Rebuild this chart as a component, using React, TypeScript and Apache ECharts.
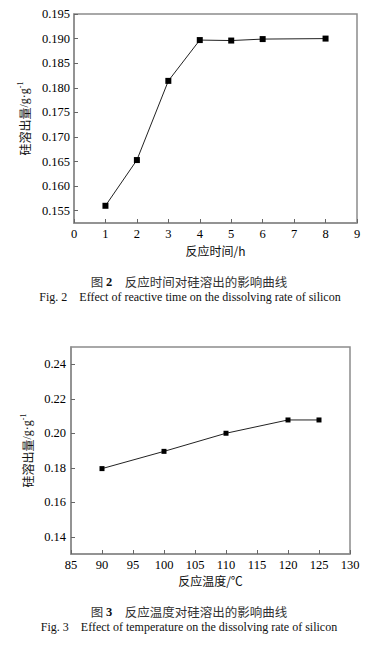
import React, { useEffect, useRef } from "react";
import * as echarts from "echarts";

const timeHours = [1, 2, 3, 4, 5, 6, 8];
const timeSilicon = [0.156, 0.1653, 0.1814, 0.1897, 0.1896, 0.1899, 0.19];
const timeXTicks = [0, 1, 2, 3, 4, 5, 6, 7, 8, 9];
const timeYTicks = [0.155, 0.16, 0.165, 0.17, 0.175, 0.18, 0.185, 0.19, 0.195];

const tempC = [90, 100, 110, 120, 125];
const tempSilicon = [0.1795, 0.1895, 0.2, 0.2077, 0.2077];
const tempXTicks = [85, 90, 95, 100, 105, 110, 115, 120, 125, 130];
const tempYTicks = [0.14, 0.16, 0.18, 0.2, 0.22, 0.24];

const SERIF = "Liberation Serif";
const CJK = "Noto Sans CJK SC";

export default function App() {
  const ref = useRef<HTMLDivElement>(null);
  useEffect(() => {
    if (!ref.current) return;
    const chart = echarts.init(ref.current, null, { renderer: "svg" });
    const axisLine = { show: true, lineStyle: { color: "#8c8c8c", width: 1.5 } };
    const tick = { show: true, inside: true, length: 4, lineStyle: { color: "#666", width: 1 } };
    const lbl = { color: "#000", fontFamily: SERIF, fontSize: 12.5, lineHeight: 12 };
    const yName = {
      rich: {
        m: { fontFamily: CJK, fontSize: 12, color: "#111" },
        s: { fontFamily: SERIF, fontSize: 12, color: "#111" },
        sup: { fontFamily: SERIF, fontSize: 8, color: "#111", verticalAlign: "top", padding: [0, 0, 8, 0] },
      },
    };
    const xNameStyle = { fontFamily: CJK, fontSize: 12, color: "#111", lineHeight: 12 };
    const capRich = {
      m: { fontFamily: CJK, fontSize: 12.5, fill: "#333", lineHeight: 12 },
      b: { fontFamily: SERIF, fontSize: 12.5, fontWeight: "bold", fill: "#111", lineHeight: 12 },
    };
    chart.setOption({
      animation: false,
      backgroundColor: "#fff",
      grid: [
        { left: 74, top: 14, width: 283, height: 209, show: true, borderColor: "#8c8c8c", borderWidth: 1.5 },
        { left: 71, top: 347, width: 279, height: 207, show: true, borderColor: "#8c8c8c", borderWidth: 1.5 },
      ],
      xAxis: [
        {
          gridIndex: 0, type: "value", min: 0, max: 9,
          axisLine, axisTick: { ...tick, customValues: timeXTicks },
          axisLabel: { ...lbl, margin: 5, customValues: timeXTicks },
          splitLine: { show: false },
          name: "反应时间/h", nameLocation: "middle", nameGap: 21, nameTextStyle: xNameStyle,
        },
        {
          gridIndex: 1, type: "value", min: 85, max: 130,
          axisLine, axisTick: { ...tick, customValues: tempXTicks },
          axisLabel: { ...lbl, margin: 5, customValues: tempXTicks },
          splitLine: { show: false },
          name: "反应温度/℃", nameLocation: "middle", nameGap: 20, nameTextStyle: xNameStyle,
        },
      ],
      yAxis: [
        {
          gridIndex: 0, type: "value", min: 0.1525, max: 0.195,
          axisLine, axisTick: { ...tick, customValues: timeYTicks },
          axisLabel: { ...lbl, margin: 4, customValues: timeYTicks, formatter: (v: number) => v.toFixed(3) },
          splitLine: { show: false },
          name: "{m|硅溶出量}{s|/g·g}{sup|-1}", nameLocation: "middle", nameGap: 42, nameRotate: 90,
          nameTextStyle: yName,
        },
        {
          gridIndex: 1, type: "value", min: 0.13, max: 0.25,
          axisLine, axisTick: { ...tick, customValues: tempYTicks },
          axisLabel: { ...lbl, margin: 5, customValues: tempYTicks, formatter: (v: number) => v.toFixed(2) },
          splitLine: { show: false },
          name: "{m|硅溶出量}{s|/g·g}{sup|-1}", nameLocation: "middle", nameGap: 32, nameRotate: 90,
          nameTextStyle: yName,
        },
      ],
      series: [
        {
          type: "line", xAxisIndex: 0, yAxisIndex: 0,
          data: timeHours.map((h, i) => [h, timeSilicon[i]]),
          symbol: "rect", symbolSize: 6,
          lineStyle: { color: "#222", width: 1 },
          itemStyle: { color: "#000" },
        },
        {
          type: "line", xAxisIndex: 1, yAxisIndex: 1,
          data: tempC.map((t, i) => [t, tempSilicon[i]]),
          symbol: "rect", symbolSize: 5,
          lineStyle: { color: "#222", width: 1 },
          itemStyle: { color: "#000" },
        },
      ],
      graphic: [
        {
          type: "text", x: 189, y: 281.5,
          style: {
            text: "{m|图 }{b|2}{m|　反应时间对硅溶出的影响曲线}",
            align: "center", verticalAlign: "middle",
            rich: capRich,
          },
        },
        {
          type: "text", x: 190, y: 296.5,
          style: {
            text: "Fig. 2    Effect of reactive time on the dissolving rate of silicon",
            align: "center", verticalAlign: "middle",
            fontFamily: SERIF, fontSize: 12, lineHeight: 12, fill: "#111",
          },
        },
        {
          type: "text", x: 189, y: 611.5,
          style: {
            text: "{m|图 }{b|3}{m|　反应温度对硅溶出的影响曲线}",
            align: "center", verticalAlign: "middle",
            rich: capRich,
          },
        },
        {
          type: "text", x: 189, y: 626.5,
          style: {
            text: "Fig. 3    Effect of temperature on the dissolving rate of silicon",
            align: "center", verticalAlign: "middle",
            fontFamily: SERIF, fontSize: 12, lineHeight: 12, fill: "#111",
          },
        },
      ],
    });
    return () => chart.dispose();
  }, []);
  return (
    <div
      ref={ref}
      style={{ position: "fixed", left: 0, top: 0, width: 389, height: 662, background: "#fff" }}
    />
  );
}
